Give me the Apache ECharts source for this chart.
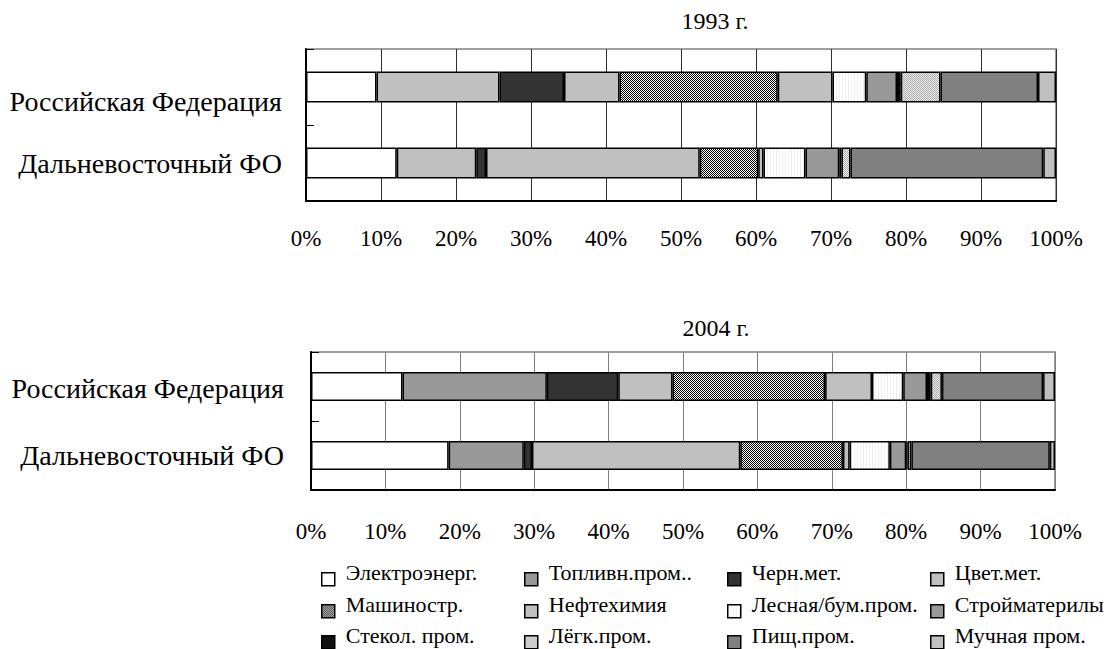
<!DOCTYPE html>
<html>
<head>
<meta charset="utf-8">
<script src="https://cdn.jsdelivr.net/npm/echarts@6/dist/echarts.min.js"></script>
<style>
html,body{margin:0;padding:0;background:#fff;}
#chart{width:1117px;height:649px;}
</style>
</head>
<body>
<div id="chart"></div>
<script>
// ---- data ----
var categories = ['Российская Федерация', 'Дальневосточный ФО'];
var industries = ['Электроэнерг.', 'Топливн.пром..', 'Черн.мет.', 'Цвет.мет.',
  'Машиностр.', 'Нефтехимия', 'Лесная/бум.пром.', 'Стройматерилы',
  'Стекол. пром.', 'Лёгк.пром.', 'Пищ.пром.', 'Мучная пром.'];
var titles = ['1993 г.', '2004 г.'];
var xTickValues = [0, 10, 20, 30, 40, 50, 60, 70, 80, 90, 100];
// shares (%) of each industry, in the order of `industries`
var rf1993  = [9.4, 16.4, 8.6, 7.4, 21.1, 7.3, 4.5, 4.1, 0.5, 5.3, 13.0, 2.4];
var dfo1993 = [12.1, 10.6, 1.3, 28.5, 7.8, 0.7, 5.6, 4.5, 0.3, 1.2, 25.7, 1.7];
var rf2004  = [12.3, 19.4, 9.6, 7.3, 20.5, 6.3, 4.2, 3.2, 0.5, 1.5, 13.6, 1.6];
var dfo2004 = [18.5, 10.1, 1.1, 28.0, 13.8, 0.9, 5.4, 2.2, 0.2, 0.5, 18.6, 0.7];

// ---- patterns ----
function makePattern(w, h, cells) {
  var c = document.createElement('canvas');
  c.width = w; c.height = h;
  var ctx = c.getContext('2d');
  for (var y = 0; y < h; y++) for (var x = 0; x < w; x++) {
    ctx.fillStyle = cells[y][x];
    ctx.fillRect(x, y, 1, 1);
  }
  return { image: c, repeat: 'repeat' };
}
var patMash = makePattern(2, 2, [['#000', '#fff'], ['#fff', '#000']]);
var patLes  = makePattern(3, 1, [['#fff', '#fff', '#efefef']]);
var patLegk = makePattern(2, 2, [['#a8a8a8', '#f0f0f0'], ['#f0f0f0', '#a8a8a8']]);

var colors2004 = ['#ffffff', '#999999', '#333333', '#c0c0c0', patMash, '#c0c0c0',
  patLes, '#999999', '#111111', patLegk, '#808080', '#c0c0c0'];
var colors1993 = colors2004.slice();
colors1993[1] = '#c0c0c0';

var FONT = "'Liberation Serif', 'Times New Roman', serif";

function makeSeries(idx, rf, dfo, colors, barW) {
  return industries.map(function (name, i) {
    return {
      name: name, type: 'bar', stack: 'total' + idx,
      xAxisIndex: idx, yAxisIndex: idx, barWidth: barW,
      silent: true,
      itemStyle: { color: colors[i], borderColor: '#000', borderWidth: 1.5 },
      data: [rf[i], dfo[i]]
    };
  });
}

// 2004 first so legend picks its colours
var series = makeSeries(1, rf2004, dfo2004, colors2004, 29)
  .concat(makeSeries(0, rf1993, dfo1993, colors1993, 31));

var grids = [
  { left: 306, top: 49, width: 750, height: 152, splitColor: '#303030', labelMargin: 26, catMargin: 24, firstPad: 28 },
  { left: 311, top: 352, width: 744, height: 138, splitColor: '#808080', labelMargin: 30, catMargin: 27, firstPad: 4 }
];

// legend: 4 columns x 3 rows, one component per item
var legendX = [321, 524, 727, 930];
var legendRowCenter = [572, 604, 635];
var ICON = 'path://M0,0L0,0M0,13L13,13L13,26L0,26Z';
var legends = industries.map(function (name, i) {
  var col = i % 4, row = Math.floor(i / 4);
  return {
    left: legendX[col], top: legendRowCenter[row] - 13, padding: 0,
    itemWidth: 13, itemHeight: 26, itemGap: 0,
    selectedMode: false,
    textStyle: { fontFamily: FONT, fontSize: 22, color: '#000', padding: [0, 0, 0, 6] },
    data: [{ name: name, icon: ICON,
      itemStyle: { color: colors2004[i], borderColor: '#000', borderWidth: 1.5 } }]
  };
});

var option = {
  animation: false,
  backgroundColor: '#fff',
  title: titles.map(function (t, k) {
    return {
      text: t, left: k === 0 ? 715 : 716, top: k === 0 ? 9 : 316, textAlign: 'center', padding: 0,
      textStyle: { fontFamily: FONT, fontSize: 24, fontWeight: 'normal', color: '#000' }
    };
  }),
  legend: legends,
  grid: grids.map(function (g) {
    return { left: g.left, top: g.top, width: g.width, height: g.height,
      show: true, borderColor: '#808080', borderWidth: 1.5, containLabel: false };
  }),
  xAxis: grids.map(function (g, k) {
    return {
      type: 'value', gridIndex: k, min: 0, max: 100, interval: 10,
      axisLine: { show: true, lineStyle: { color: '#000', width: 2 } },
      axisTick: { show: false },
      splitLine: { show: true, lineStyle: { color: g.splitColor, width: 1 } },
      axisLabel: { formatter: '{value}%', fontFamily: FONT, fontSize: 23, color: '#000', margin: g.labelMargin,
        customValues: xTickValues }
    };
  }),
  yAxis: grids.map(function (g, k) {
    return {
      type: 'category', gridIndex: k, inverse: true, data: categories,
      axisLine: { show: true, lineStyle: { color: '#000', width: 2 } },
      axisTick: { show: true, inside: true, length: 8, lineStyle: { color: '#000' } },
      axisLabel: {
        fontFamily: FONT, fontSize: 28, color: '#000', margin: g.catMargin,
        formatter: function (v, idx) { return idx === 0 ? '{s|' + v + '}' : v; },
        rich: { s: { fontFamily: FONT, fontSize: 28, color: '#000', padding: [g.firstPad, 0, 0, 0] } }
      }
    };
  }),
  series: series
};

var chart = echarts.init(document.getElementById('chart'), null, { renderer: 'svg' });
chart.setOption(option);
</script>
</body>
</html>
